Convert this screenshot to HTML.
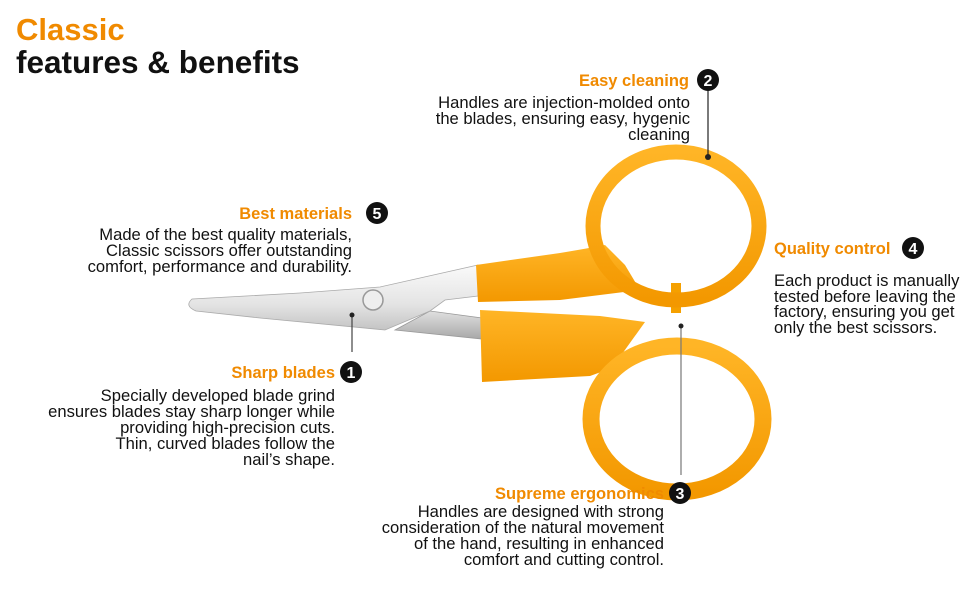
<!DOCTYPE html>
<html><head><meta charset="utf-8"><style>
html,body{margin:0;padding:0;background:#fff;width:970px;height:600px;overflow:hidden}
svg text{font-family:"Liberation Sans",sans-serif}
.h{fill:#f08a00;font-weight:bold;font-size:16.5px}
.b{fill:#111;font-size:16.6px}
.n{fill:#fff;font-size:16px;font-weight:bold}
</style></head><body>
<svg width="970" height="600" viewBox="0 0 970 600">
<defs>
<linearGradient id="bl" x1="0" y1="0" x2="0" y2="1"><stop offset="0" stop-color="#fafafa"/><stop offset=".6" stop-color="#e4e4e4"/><stop offset="1" stop-color="#c4c4c4"/></linearGradient>
<linearGradient id="bl2" x1="0" y1="0" x2="0" y2="1"><stop offset="0" stop-color="#e0e0e0"/><stop offset="1" stop-color="#a8a8a8"/></linearGradient>
<linearGradient id="or" x1="0" y1="0" x2="0" y2="1"><stop offset="0" stop-color="#ffb526"/><stop offset="1" stop-color="#f39800"/></linearGradient>
</defs>
<text x="16" y="40" style="fill:#f08a00;font-weight:bold;font-size:31px">Classic</text>
<text x="16" y="73" style="fill:#111;font-weight:bold;font-size:31.5px">features &amp; benefits</text>

<path d="M395,330 L430,311 L482,318 L482,339 Z" fill="url(#bl2)" stroke="#999" stroke-width="0.8"/>
<path d="M192,299 Q184,306 196,311 L260,318 L385,330 L430,311 L445,300 L478,296 L478,265 L380,287 L300,293 Z" fill="url(#bl)" stroke="#aaa" stroke-width="0.8"/>
<circle cx="373" cy="300" r="10" fill="#eee" stroke="#999" stroke-width="1.5"/>

<path d="M476,265 L560,253 Q590,248 605,245 L625,265 L640,290 L560,300 L478,302 Z" fill="url(#or)"/>
<path d="M480,310 L600,316 L645,322 L612,368 L590,376 L482,382 Z" fill="url(#or)"/>
<rect x="671" y="283" width="10" height="30" fill="#f5a000"/>
<ellipse cx="676" cy="226" rx="83" ry="74" fill="none" stroke="url(#or)" stroke-width="15"/>
<ellipse cx="677" cy="419" rx="86" ry="73" fill="none" stroke="url(#or)" stroke-width="17"/>

<line x1="708" y1="90" x2="708" y2="157" stroke="#222" stroke-width="1.2"/>
<circle cx="708" cy="157" r="3" fill="#222"/>
<line x1="352" y1="315" x2="352" y2="352" stroke="#444" stroke-width="1.2"/>
<circle cx="352" cy="315" r="2.5" fill="#222"/>
<line x1="681" y1="326" x2="681" y2="475" stroke="#777" stroke-width="1.2"/>
<circle cx="681" cy="326" r="2.5" fill="#222"/>

<text class="h" x="689" y="86" text-anchor="end">Easy cleaning</text>
<text class="b" x="690" y="108" text-anchor="end">Handles are injection-molded onto</text>
<text class="b" x="690" y="124" text-anchor="end">the blades, ensuring easy, hygenic</text>
<text class="b" x="690" y="140" text-anchor="end">cleaning</text>

<text class="h" x="352" y="219" text-anchor="end">Best materials</text>
<text class="b" x="352" y="240" text-anchor="end">Made of the best quality materials,</text>
<text class="b" x="352" y="256" text-anchor="end">Classic scissors offer outstanding</text>
<text class="b" x="352" y="272" text-anchor="end">comfort, performance and durability.</text>

<text class="h" x="335" y="378" text-anchor="end">Sharp blades</text>
<text class="b" x="335" y="401" text-anchor="end">Specially developed blade grind</text>
<text class="b" x="335" y="417" text-anchor="end">ensures blades stay sharp longer while</text>
<text class="b" x="335" y="433" text-anchor="end">providing high-precision cuts.</text>
<text class="b" x="335" y="449" text-anchor="end">Thin, curved blades follow the</text>
<text class="b" x="335" y="465" text-anchor="end">nail’s shape.</text>

<text class="h" x="774" y="254">Quality control</text>
<text class="b" x="774" y="286">Each product is manually</text>
<text class="b" x="774" y="302">tested before leaving the</text>
<text class="b" x="774" y="317">factory, ensuring you get</text>
<text class="b" x="774" y="333">only the best scissors.</text>

<text class="h" x="664" y="499" text-anchor="end" textLength="169" lengthAdjust="spacingAndGlyphs">Supreme ergonomics</text>
<text class="b" x="664" y="517" text-anchor="end">Handles are designed with strong</text>
<text class="b" x="664" y="533" text-anchor="end">consideration of the natural movement</text>
<text class="b" x="664" y="549" text-anchor="end">of the hand, resulting in enhanced</text>
<text class="b" x="664" y="565" text-anchor="end">comfort and cutting control.</text>

<g><circle cx="708" cy="80" r="11" fill="#111"/><text class="n" x="708" y="86" text-anchor="middle">2</text></g>
<g><circle cx="377" cy="213" r="11" fill="#111"/><text class="n" x="377" y="219" text-anchor="middle">5</text></g>
<g><circle cx="351" cy="372" r="11" fill="#111"/><text class="n" x="351" y="378" text-anchor="middle">1</text></g>
<g><circle cx="913" cy="248" r="11" fill="#111"/><text class="n" x="913" y="254" text-anchor="middle">4</text></g>
<g><circle cx="680" cy="493" r="11" fill="#111"/><text class="n" x="680" y="499" text-anchor="middle">3</text></g>
</svg>
</body></html>
